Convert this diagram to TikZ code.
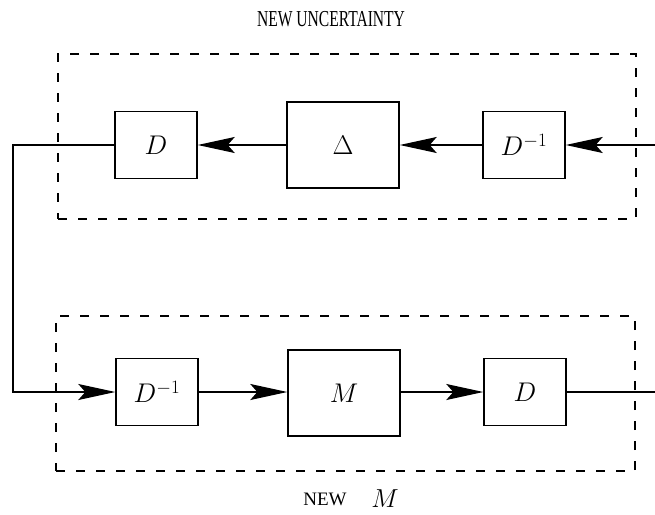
\RequirePackage{fix-cm}
\documentclass[tikz,border=0pt]{standalone}
\usepackage{fontspec}
\newfontfamily\labelfont{Liberation Serif}
\usetikzlibrary{arrows.meta}
\begin{document}
\begin{tikzpicture}[x=1pt,y=-1pt,
  blk/.style={draw,line width=1.4pt,minimum width=82pt,minimum height=67pt,inner sep=0pt,font=\fontsize{27}{32}\selectfont},
  bigblk/.style={blk,minimum width=112pt,minimum height=86pt},
  sig/.style={line width=1.4pt},
  arr/.style={sig,-{Stealth[length=37pt,width=16pt,inset=7pt]}},
  dbox/.style={draw,line width=1.9pt,dash pattern=on 9pt off 11pt,inner sep=0pt},
  lbl/.style={font=\labelfont\fontsize{19}{22}\selectfont,inner sep=0pt}]
\useasboundingbox (0,0) rectangle (655,514);
% dashed boxes
\node[dbox,minimum width=578pt,minimum height=165pt] (unc) at (347,136.5) {};
\node[dbox,minimum width=579pt,minimum height=155pt] (newm) at (345.5,393.5) {};
% top row
\node[blk] (dT) at (156,145) {$D$};
\node[bigblk] (delta) at (343,145) {$\Delta$};
\node[blk] (dinvT) at (524,145) {$D^{-1}$};
% bottom row
\node[blk] (dinvB) at (157,392) {$D^{-1}$};
\node[bigblk] (m) at (344,393) {$M$};
\node[blk] (dB) at (525,392) {$D$};
% free ends
\coordinate (rin) at (655,145);
\coordinate (rout) at (655,392);
\coordinate (lt) at (13,145);
\coordinate (lb) at (13,392);
% connectors
\draw[arr] (rin) -- (dinvT.east);
\draw[arr] (dinvT.west) -- (delta.east);
\draw[arr] (delta.west) -- (dT.east);
\draw[arr] (dT.west) -- (lt) -- (lb) -- (dinvB.west);
\draw[arr] (dinvB.east) -- (dinvB.east -| m.west);
\draw[arr] (m.east |- dB.west) -- (dB.west);
\draw[sig] (dB.east) -- (rout);
% labels
\node[lbl,anchor=base] (t1) at (331,26) {\scalebox{0.82}[1.2]{NEW UNCERTAINTY}};
\node[lbl,anchor=base] (t2) at (325,505) {NEW};
\node[anchor=base,inner sep=0pt,font=\fontsize{26}{30}\selectfont] (t3) at (385,507) {$M$};
\end{tikzpicture}
\end{document}
